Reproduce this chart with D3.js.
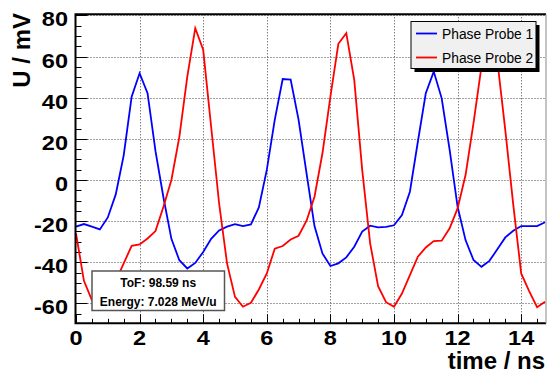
<!DOCTYPE html>
<html>
<head>
<meta charset="utf-8">
<script src="https://cdn.jsdelivr.net/npm/d3@7"></script>
<style>
  html, body { margin: 0; padding: 0; background: #fff; }
  svg { display: block; font-family: "Liberation Sans", Arial, Helvetica, sans-serif; }
</style>
</head>
<body>
<div id="chart"></div>
<script>
// --- Data (0.25 ns sampling) ---
const times = d3.range(0, 60).map(i => i * 0.25);

const probe1 = [
  -22.7, -21.4, -22.7, -24.0, -18.2, -7.0, 12.0, 40.5, 51.9, 42.2,
  14.0, -8.5, -28.6, -39.0, -43.0, -40.3, -35.0, -28.6, -24.5, -22.7,
  -21.5, -22.4, -21.6, -13.3, 4.9, 29.2, 49.1, 48.8, 29.2, 3.2,
  -22.4, -35.7, -41.8, -40.5, -37.6, -32.4, -25.1, -22.2, -23.0, -22.8,
  -22.0, -17.0, -5.7, 18.6, 42.2, 52.7, 39.7, 14.6, -13.0, -29.2,
  -38.9, -42.2, -39.3, -33.7, -27.9, -24.7, -22.4, -22.4, -22.4, -20.5
];

const probe2 = [
  -26.0, -49.0, -58.4, -61.0, -56.0, -49.0, -40.5, -32.0, -31.3, -28.4,
  -24.8, -13.0, 0.0, 21.0, 50.3, 73.8, 63.3, 25.9, -11.3, -40.5,
  -56.8, -61.6, -59.7, -53.2, -45.4, -33.4, -32.1, -28.9, -27.1, -19.8,
  -8.1, 13.0, 40.5, 66.2, 71.4, 48.7, 4.9, -30.8, -51.6, -59.4,
  -61.6, -55.2, -46.2, -37.3, -32.8, -29.7, -29.5, -23.5, -13.8, 2.4,
  27.6, 55.1, 72.0, 58.0, 24.3, -12.0, -45.4, -54.0, -61.8, -59.2
];

const seriesNames = ["Phase Probe 1", "Phase Probe 2"];
const seriesColors = ["#0000ff", "#ff0000"];
const xTicks = [0, 2, 4, 6, 8, 10, 12, 14];
const yTicks = [-60, -40, -20, 0, 20, 40, 60, 80];
const infoLines = ["ToF: 98.59 ns", "Energy: 7.028 MeV/u"];

// --- Dimensions ---
const W = 547, H = 374;
const frame = { left: 75.5, top: 14.3, right: 546, bottom: 323.3 };

const svg = d3.select("#chart").append("svg")
  .attr("width", W)
  .attr("height", H);

const x = d3.scaleLinear().domain([0, 14.78]).range([76, 546]);
const y = d3.scaleLinear().domain([-69.65, 80.7]).range([323.3, 14]);

// stretch bold labels a little, ROOT draws them wider
function widen(sel, k) {
  sel.each(function () {
    const w = this.getComputedTextLength();
    d3.select(this).attr("textLength", w * k).attr("lengthAdjust", "spacingAndGlyphs");
  });
}

// --- Grid (dotted) ---
const grid = svg.append("g").attr("class", "grid")
  .attr("stroke", "#444")
  .attr("stroke-width", 1)
  .attr("stroke-dasharray", "1,2");

grid.selectAll("line.gx")
  .data(xTicks.filter(d => d > 0))
  .join("line")
  .attr("class", "gx")
  .attr("x1", d => Math.round(x(d)) + 0.5)
  .attr("x2", d => Math.round(x(d)) + 0.5)
  .attr("y1", frame.top)
  .attr("y2", frame.bottom);

grid.selectAll("line.gy")
  .data(yTicks)
  .join("line")
  .attr("class", "gy")
  .attr("x1", frame.left)
  .attr("x2", frame.right)
  .attr("y1", d => Math.round(y(d)) + 0.5)
  .attr("y2", d => Math.round(y(d)) + 0.5);

// --- Ticks (inside the frame) ---
const ticks = svg.append("g").attr("stroke", "#000").attr("stroke-width", 1);

const xMinor = d3.range(0, 14.8, 0.5);
ticks.selectAll("line.tx")
  .data(xMinor)
  .join("line")
  .attr("x1", d => Math.round(x(d)) + 0.5)
  .attr("x2", d => Math.round(x(d)) + 0.5)
  .attr("y1", frame.bottom)
  .attr("y2", d => frame.bottom - (d % 2 === 0 ? 9 : 4.5));

const yMinor = d3.range(-65, 81, 5);
ticks.selectAll("line.ty")
  .data(yMinor)
  .join("line")
  .attr("x1", frame.left)
  .attr("x2", d => frame.left + (d % 20 === 0 ? 12 : 6))
  .attr("y1", d => Math.round(y(d)) + 0.5)
  .attr("y2", d => Math.round(y(d)) + 0.5);

// --- Series lines ---
const line = d3.line().x(d => x(d[0])).y(d => y(d[1]));
const plot = svg.append("g");
[probe1, probe2].forEach((vals, i) => {
  plot.append("path")
    .datum(times.map((t, j) => [t, vals[j]]))
    .attr("fill", "none")
    .attr("stroke", seriesColors[i])
    .attr("stroke-width", 1.8)
    .attr("stroke-linejoin", "miter")
    .attr("d", line);
});

// --- Frame ---
svg.append("path")
  .attr("d", `M${frame.right},${frame.top} H${frame.left} V${frame.bottom} H${frame.right}`)
  .attr("fill", "none")
  .attr("stroke", "#000")
  .attr("stroke-width", 2);
svg.append("line")
  .attr("x1", frame.right).attr("x2", frame.right)
  .attr("y1", frame.top).attr("y2", frame.bottom)
  .attr("stroke", "#888").attr("stroke-width", 1);

// --- Tick labels ---
svg.append("g").selectAll("text")
  .data(xTicks)
  .join("text")
  .attr("x", d => x(d))
  .attr("y", 345.3)
  .attr("text-anchor", "middle")
  .attr("font-size", 21)
  .attr("font-weight", "bold")
  .text(d => String(d))
  .call(widen, 1.12);

svg.append("g").selectAll("text")
  .data(yTicks)
  .join("text")
  .attr("x", 68)
  .attr("y", d => y(d) + 11)
  .attr("text-anchor", "end")
  .attr("font-size", 21)
  .attr("font-weight", "bold")
  .text(d => String(d))
  .call(widen, 1.12);

// --- Axis titles ---
svg.append("text")
  .attr("x", 545)
  .attr("y", 369)
  .attr("text-anchor", "end")
  .attr("font-size", 24)
  .attr("font-weight", "bold")
  .text("time / ns");

svg.append("text")
  .attr("transform", "translate(30,13) rotate(-90)")
  .attr("text-anchor", "end")
  .attr("font-size", 24)
  .attr("font-weight", "bold")
  .text("U / mV");

// --- Legend ---
const leg = { x: 411, y: 21.5, w: 125, h: 47 };
const legend = svg.append("g");
legend.append("rect")
  .attr("x", leg.x + 3.5).attr("y", leg.y + 3.5)
  .attr("width", leg.w).attr("height", leg.h)
  .attr("fill", "#000");
legend.append("rect")
  .attr("x", leg.x).attr("y", leg.y)
  .attr("width", leg.w).attr("height", leg.h)
  .attr("fill", "#f0f0f0")
  .attr("stroke", "#000")
  .attr("stroke-width", 1);

seriesNames.forEach((name, i) => {
  const ly = leg.y + 12 + i * 24;
  legend.append("line")
    .attr("x1", leg.x + 5).attr("x2", leg.x + 26)
    .attr("y1", ly).attr("y2", ly)
    .attr("stroke", seriesColors[i])
    .attr("stroke-width", 1.8);
  legend.append("text")
    .attr("x", leg.x + 31)
    .attr("y", ly + 5)
    .attr("font-size", 13.8)
    .attr("fill", "#000")
    .text(name);
});

// --- Info box (ToF / Energy) ---
const info = svg.append("g");
info.append("rect")
  .attr("x", 92).attr("y", 271)
  .attr("width", 132.5).attr("height", 39.5)
  .attr("fill", "#fff")
  .attr("stroke", "#555")
  .attr("stroke-width", 1.5);
info.selectAll("text")
  .data(infoLines)
  .join("text")
  .attr("x", 158.2)
  .attr("y", (d, i) => 287.3 + i * 18.4)
  .attr("text-anchor", "middle")
  .attr("font-size", 12)
  .attr("font-weight", "bold")
  .text(d => d);
</script>
</body>
</html>
